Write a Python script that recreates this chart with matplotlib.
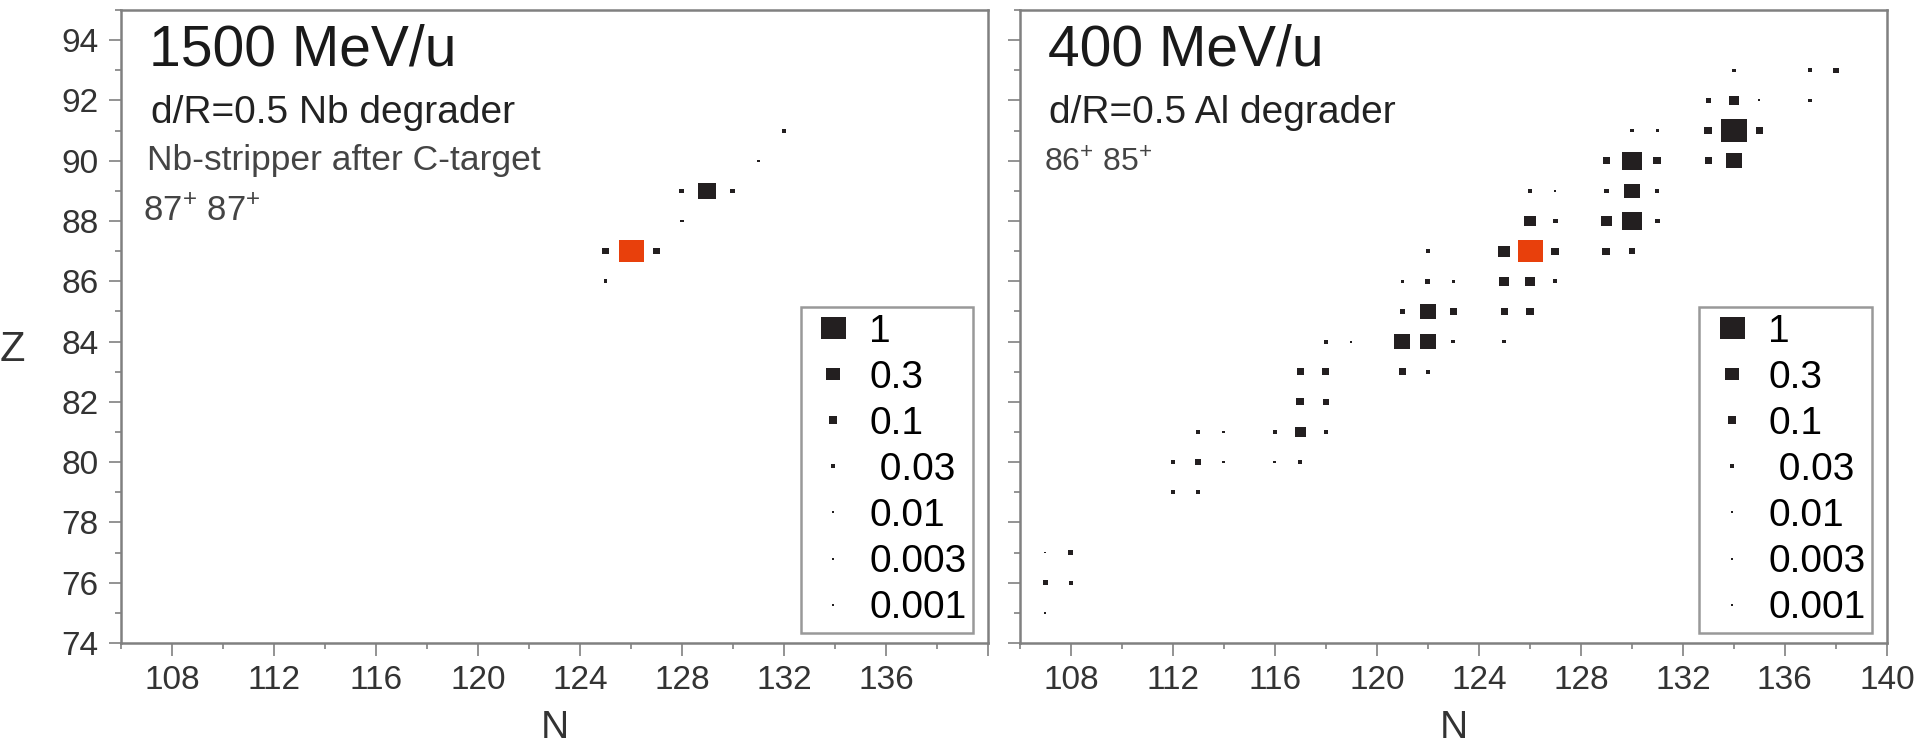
import numpy as np
import matplotlib
matplotlib.use('Agg')
import matplotlib.pyplot as plt
from matplotlib.lines import Line2D

plt.rcParams['font.family'] = ['Liberation Sans', 'DejaVu Sans']
plt.rcParams['mathtext.fontset'] = 'custom'
plt.rcParams['mathtext.rm'] = 'Liberation Sans'

# 1500 MeV/u, Nb degrader: relative yields per (N, Z)
hi_n = [125, 127, 125, 128, 128, 129, 130, 131, 132]
hi_z = [87, 87, 86, 88, 89, 89, 89, 90, 91]
hi_y = [0.08, 0.06, 0.025, 0.015, 0.04, 0.52, 0.04, 0.002, 0.03]

# 400 MeV/u, Al degrader
lo_n = [134, 137, 138,
        133, 134, 135, 137,
        130, 131, 133, 134, 135,
        129, 130, 131, 133, 134,
        126, 127, 129, 130, 131,
        126, 127, 129, 130, 131,
        122, 125, 127, 129, 130,
        121, 122, 123, 125, 126, 127,
        121, 122, 123, 125, 126,
        118, 119, 121, 122, 123, 125,
        117, 118, 121, 122,
        117, 118,
        113, 114, 116, 117, 118,
        112, 113, 114, 116, 117,
        112, 113,
        107, 108,
        107, 108,
        107]
lo_z = [93, 93, 93,
        92, 92, 92, 92,
        91, 91, 91, 91, 91,
        90, 90, 90, 90, 90,
        89, 89, 89, 89, 89,
        88, 88, 88, 88, 88,
        87, 87, 87, 87, 87,
        86, 86, 86, 86, 86, 86,
        85, 85, 85, 85, 85,
        84, 84, 84, 84, 84, 84,
        83, 83, 83, 83,
        82, 82,
        81, 81, 81, 81, 81,
        80, 80, 80, 80, 80,
        79, 79,
        77, 77,
        76, 76,
        75]
lo_y = [0.02, 0.026, 0.058,
        0.04, 0.18, 0.002, 0.026,
        0.026, 0.02, 0.1, 1.08, 0.09,
        0.08, 0.64, 0.1, 0.08, 0.41,
        0.026, 0.005, 0.04, 0.41, 0.026,
        0.23, 0.04, 0.19, 0.64, 0.04,
        0.026, 0.23, 0.1, 0.1, 0.058,
        0.014, 0.04, 0.014, 0.16, 0.16, 0.026,
        0.04, 0.45, 0.08, 0.08, 0.1,
        0.03, 0.002, 0.41, 0.45, 0.026, 0.026,
        0.08, 0.08, 0.08, 0.026,
        0.1, 0.058,
        0.026, 0.014, 0.026, 0.19, 0.026,
        0.026, 0.058, 0.014, 0.014, 0.026,
        0.026, 0.026,
        0.002, 0.04,
        0.04, 0.026,
        0.002]

# centred fragment (213Fr), yield 1
ref_n = [126]
ref_z = [87]
ref_y = [1.0]

legend_vals = [1, 0.3, 0.1, 0.03, 0.01, 0.003, 0.001]
legend_labels = ['1', '0.3', '0.1', ' 0.03', '0.01', '0.003', '0.001']

x_ticks = np.arange(108, 141, 4)
y_ticks = np.arange(74, 95, 2)

black = '#231f20'
red = '#e8400c'
gray = '#808080'
rect = [(-0.55, -0.5), (0.55, -0.5), (0.55, 0.5), (-0.55, 0.5), (-0.55, -0.5)]
size_k = 18.0    # marker width in pt for yield 1
size_min = 1.5   # smallest marker width in pt


def mwidth(v):
    return np.maximum(size_k * np.sqrt(np.asarray(v, dtype=float)), size_min)


fig = plt.figure(figsize=(19.15, 7.46), dpi=100)
ax1 = fig.add_axes([0.0632, 0.1381, 0.4527, 0.8485])
ax2 = fig.add_axes([0.5326, 0.1381, 0.4527, 0.8485])

panels = [
    (ax1, hi_n, hi_z, hi_y, '1500 MeV/u', 'd/R=0.5 Nb degrader',
     'Nb-stripper after C-target', r'87$^{+}$ 87$^{+}$'),
    (ax2, lo_n, lo_z, lo_y, '400 MeV/u', 'd/R=0.5 Al degrader',
     None, r'86$^{+}$ 85$^{+}$'),
]

for ax, n, z, y, title, sub, note, charge in panels:
    ax.scatter(n, z, s=mwidth(y) ** 2, marker=rect, color=black, linewidths=0)
    ax.scatter(ref_n, ref_z, s=mwidth(ref_y) ** 2, marker=rect, color=red,
               linewidths=0)

    ax.set_xlim(106, 140)
    ax.set_ylim(74, 95)
    ax.set_xticks(x_ticks)
    ax.set_xticks(np.arange(106, 141, 2), minor=True)
    ax.set_yticks(y_ticks)
    ax.set_yticks(np.arange(74, 96, 1), minor=True)
    ax.tick_params(which='major', length=9, width=1.2, color=gray,
                   labelsize=24, labelcolor='#333333', pad=7)
    ax.tick_params(which='minor', length=4.5, width=1.2, color=gray)
    for sp in ax.spines.values():
        sp.set_color(gray)
        sp.set_linewidth(1.8)

    ax.text(0.032, 0.913, title, transform=ax.transAxes, fontsize=41,
            color='#1a1a1a', va='baseline')
    ax.text(0.034, 0.821, sub, transform=ax.transAxes, fontsize=28,
            color='#222222', va='baseline')
    if note:
        ax.text(0.030, 0.747, note, transform=ax.transAxes, fontsize=25.5,
                color='#444444', va='baseline')
        ax.text(0.025, 0.668, charge, transform=ax.transAxes, fontsize=25,
                color='#444444', va='baseline')
    else:
        ax.text(0.028, 0.744, charge, transform=ax.transAxes, fontsize=23,
                color='#444444', va='baseline')

    handles = [Line2D([], [], marker=rect, ls='', color=black, markeredgewidth=0,
                      markersize=float(mwidth(v))) for v in legend_vals]
    leg = ax.legend(handles, legend_labels, loc='lower right',
                    bbox_to_anchor=(0.983, 0.016), borderaxespad=0,
                    fontsize=28, frameon=True, fancybox=False,
                    edgecolor=gray, borderpad=0.17, labelspacing=0.26,
                    handlelength=1.35, handletextpad=0.25)
    leg.get_frame().set_linewidth(1.8)

    ax.set_xlabel('N', fontsize=28, color='#333333')
    ax.xaxis.set_label_coords(0.5, -0.134)
    ax.xaxis.label.set_va('center')

ax1.set_xticklabels([str(t) for t in x_ticks[:-1]] + [''])
ax2.set_yticklabels([])

ax1.set_ylabel('Z', fontsize=30, color='#333333', rotation=0)
ax1.yaxis.set_label_coords(-0.125, 0.463)
ax1.yaxis.label.set_va('center')
ax1.yaxis.label.set_ha('center')

fig.savefig('out.png', dpi=100)
